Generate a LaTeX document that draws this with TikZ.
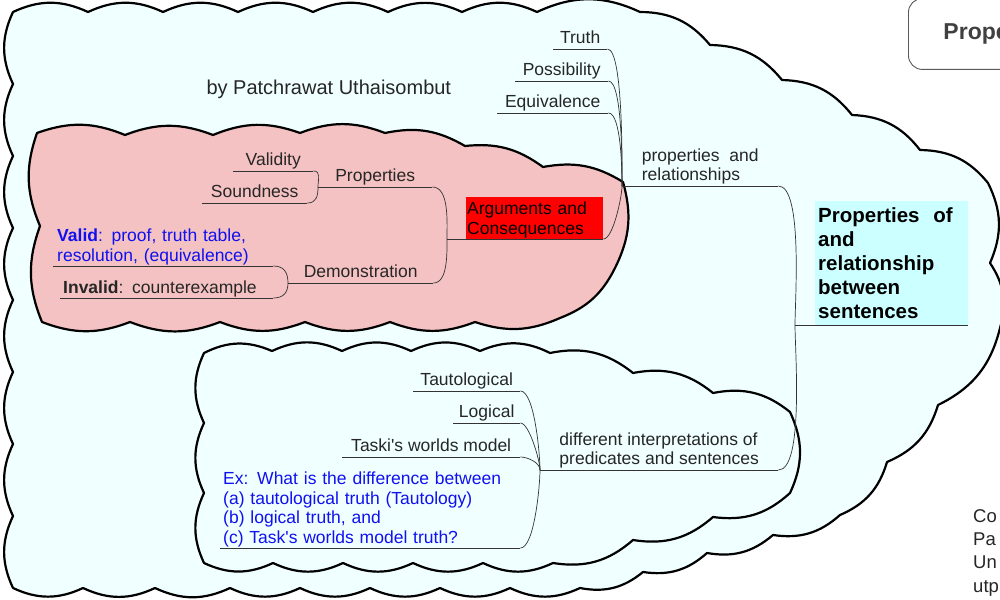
\documentclass[tikz,border=0pt]{standalone}
\usepackage{fontspec}
\setmainfont{Liberation Sans}
\definecolor{cloud-azure}{HTML}{F0FFFF}
\definecolor{cloud-pink}{HTML}{F4C2C2}
\definecolor{central-cyan}{HTML}{CCFFFF}
\definecolor{note-blue}{HTML}{1010F0}
\definecolor{topic-red}{HTML}{FF0000}
\tikzset{
  cloud/.style={
    draw=black, line width=2.2pt, line join=round
  },
  topic/.style={
    anchor=south west, inner xsep=0pt, inner ysep=1pt, text depth=4pt,
    font=\fontsize{17.5}{19.5}\selectfont, text=black!85
  },
  note/.style={
    anchor=south west, inner ysep=1pt, align=left,
    font=\fontsize{17.5}{19.5}\selectfont, text=black!85
  },
  underline/.style={
    draw, color=black!80, line width=.8pt
  },
  connection/.style={
    draw, color=black!80, line width=.7pt, looseness=.45
  }
}

\begin{document}
\begin{tikzpicture}[x=1pt, y=1pt]
        \useasboundingbox (0,0) rectangle (1000,-599);

        % clouds
        \draw[cloud, fill=cloud-azure] (13,-12)
          foreach \x/\y in {88/12, 163/12, 238/12, 313/12, 388/12, 462/12, 537/12, 640/12,
            710/45, 782/80, 852/115, 920/150, 988/183, 990/263, 1000/328,
            938/405, 887/462, 840/515, 773/535, 707/553, 643/572, 580/588,
            510/588, 440/588, 370/588, 300/588, 230/588, 155/588, 83/588, 13/588,
            13/516, 13/444, 13/372, 13/300, 13/228, 13/156, 13/84, 13/12}
          { to[bend left=25] (\x,-\y) } -- cycle;
        \draw[cloud, fill=cloud-pink] (37,-133)
          foreach \x/\y in {125/135, 213/135, 300/133, 385/133, 465/146, 543/167, 623/182,
            615/268, 560/318, 475/322, 390/322, 305/322, 220/322, 130/322, 42/322,
            40/226, 37/133}
          { to[bend left=21] (\x,-\y) } -- cycle;
        \draw[cloud, fill=cloud-azure] (204,-353)
          foreach \x/\y in {272/351, 342/351, 411/351, 480/351, 550/353, 633/373, 713/393, 790/412,
            790/493, 713/517, 633/540, 553/563, 483/563, 413/563, 343/563, 273/563, 204/563,
            204/493, 204/423, 204/353}
          { to[bend left=25] (\x,-\y) } -- cycle;

        \node[draw=black!65, line width=.9pt, fill=white, rounded corners=14pt,
          anchor=north west, minimum height=71pt, text width=200pt, inner xsep=35pt,
          font=\fontsize{23}{27}\selectfont\bfseries, text=black!75, align=left] (title) at (908,2) {Prope};
        \node[anchor=base west, font=\fontsize{20}{24}\selectfont, text=black!85] (author) at (203,-95) {by Patchrawat Uthaisombut};
        \node[anchor=north west, align=left, inner sep=0pt, font=\fontsize{18.5}{23.3}\selectfont, text=black!85] (credit) at (973,-509) {Co\\Pa\\Un\\utp};

        % central topic
        \node[anchor=south west, fill=central-cyan, text width=147pt, inner xsep=3pt, minimum height=124pt,
          align=left, font=\fontsize{20.5}{24}\selectfont\bfseries] (central) at (815,-325)
          {Properties~ of\\and\\relationship\\between\\sentences};

        % upper branch
        \node[topic, minimum width=156pt, align=left] (proprel) at (622,-186) {properties~ and\\relationships};
        \node[topic, minimum width=54pt] (truth) at (553,-49) {Truth};
        \node[topic, minimum width=93pt] (possibility) at (515,-81) {Possibility};
        \node[topic, minimum width=111pt] (equivalence) at (497,-113) {Equivalence};
        \node[note, fill=topic-red, text=black, text width=135pt, inner xsep=1pt]
          (arguments) at (466,-239) {\rule{0pt}{17pt}Arguments and\\Consequences};
        \node[topic, minimum width=114pt] (argprops) at (318,-187) {Properties};
        \node[topic, minimum width=80pt] (validity) at (233,-171) {Validity};
        \node[topic, minimum width=105pt] (soundness) at (202,-203) {Soundness};
        \node[topic, minimum width=145pt] (demonstration) at (288,-283) {Demonstration};
        \node[note, text width=212pt, inner xsep=4pt, text=note-blue] (valid) at (53,-266)
          {\textbf{Valid}: proof, truth table,\\resolution, (equivalence)};
        \node[note, text width=207pt, inner xsep=3pt] (invalid) at (60,-298)
          {\textbf{Invalid}: counterexample};

        % lower branch
        \node[topic, minimum width=238pt, align=left] (diffinterp) at (540,-470)
          {different interpretations of\\predicates and sentences};
        \node[topic, minimum width=107pt] (tautological) at (413,-391) {Tautological};
        \node[topic, minimum width=67pt] (logical) at (453,-423) {Logical};
        \node[topic, minimum width=178pt] (taski) at (342,-457) {Taski{\textquotesingle}s worlds model};
        \node[note, text width=294pt, inner xsep=3pt, text=note-blue] (example) at (220,-548)
          {Ex: What is the difference between\\(a) tautological truth (Tautology)\\(b) logical truth, and\\(c) Task{\textquotesingle}s worlds model truth?};

        \foreach \n in {proprel, truth, possibility, equivalence, arguments, argprops, validity, soundness,
          demonstration, valid, invalid, diffinterp, tautological, logical, taski, example}
          \draw[underline] (\n.south west) -- (\n.south east);
        \draw[underline] ([xshift=-20pt]central.south west) -- (central.south east);
        \draw[underline] ([xshift=-19pt]arguments.south west) -- (arguments.south west);

        \draw (proprel.south east) edge[connection, out=0, in=90] ([xshift=-20pt]central.south west);
        \draw (diffinterp.south east) edge[connection, out=0, in=-90] ([xshift=-20pt]central.south west);
        \draw (truth.south east) edge[connection, out=0, in=90, looseness=.3] (proprel.south west);
        \draw (possibility.south east) edge[connection, out=0, in=90, looseness=.35] (proprel.south west);
        \draw (equivalence.south east) edge[connection, out=0, in=90] (proprel.south west);
        \draw (arguments.south east) edge[connection, out=0, in=-90] (proprel.south west);
        \draw (argprops.south east) edge[connection, out=0, in=90, looseness=.8] ([xshift=-19pt]arguments.south west);
        \draw (demonstration.south east) edge[connection, out=0, in=-90, looseness=.8] ([xshift=-19pt]arguments.south west);
        \draw (validity.south east) edge[connection, out=0, in=90, looseness=1.2] (argprops.south west);
        \draw (soundness.south east) edge[connection, out=0, in=-90, looseness=1.2] (argprops.south west);
        \draw (valid.south east) edge[connection, out=0, in=90, looseness=1.2] (demonstration.south west);
        \draw (invalid.south east) edge[connection, out=0, in=-90, looseness=1.2] (demonstration.south west);
        \draw (tautological.south east) edge[connection, out=0, in=90] (diffinterp.south west);
        \draw (logical.south east) edge[connection, out=0, in=90] (diffinterp.south west);
        \draw (taski.south east) edge[connection, out=0, in=90, looseness=.8] (diffinterp.south west);
        \draw (example.south east) edge[connection, out=0, in=-90] (diffinterp.south west);
      \end{tikzpicture}
\end{document}
